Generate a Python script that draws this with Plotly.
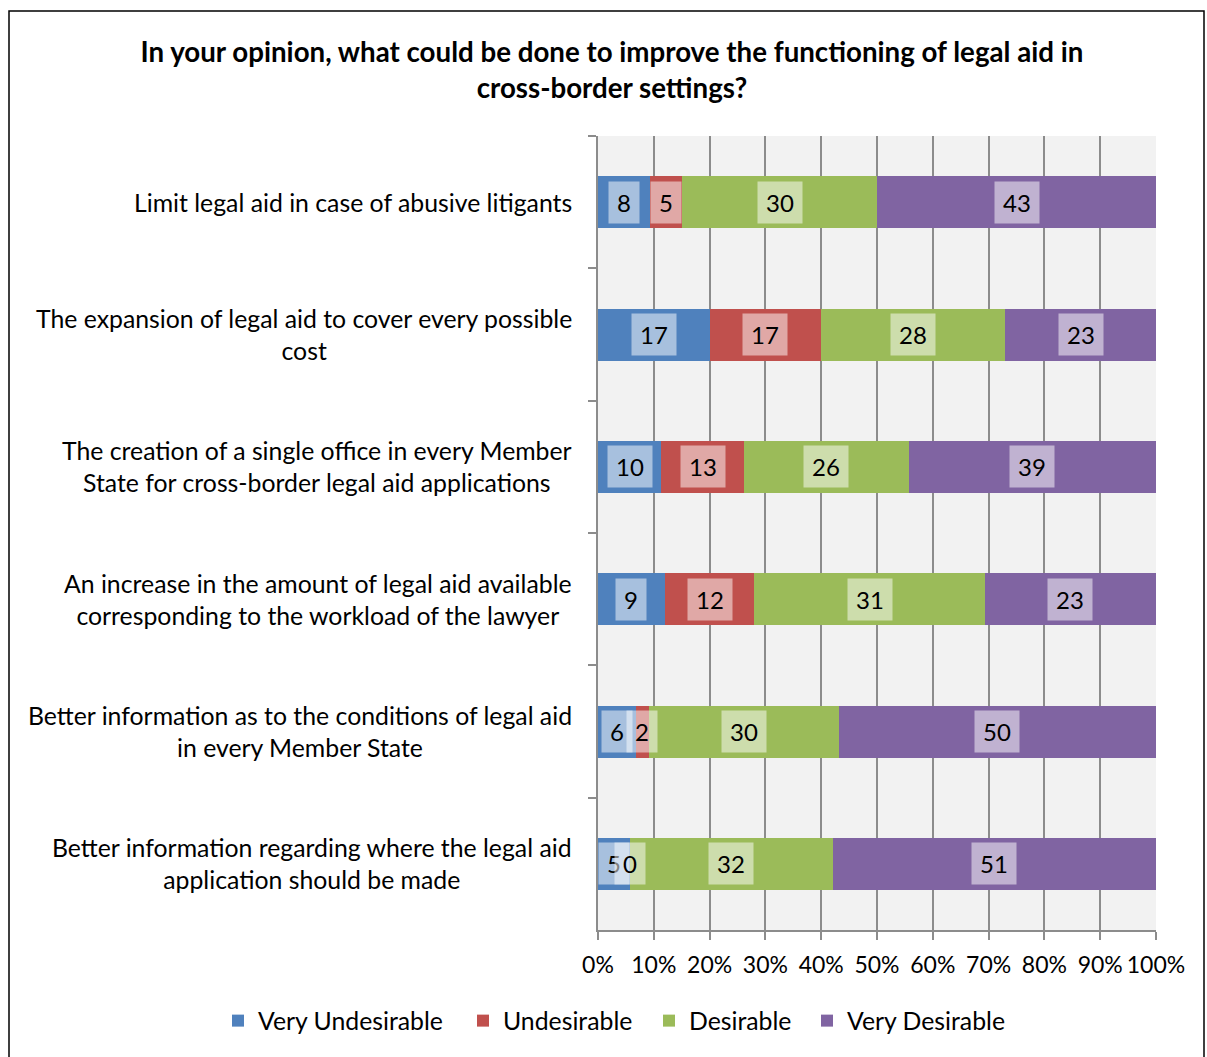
import plotly.graph_objects as go

# Survey responses (counts) for each proposal
categories = [
    "Limit legal aid in case of abusive litigants",
    "The expansion of legal aid to cover every possible<br>cost",
    "The creation of a single office in every Member<br>State for cross-border legal aid applications",
    "An increase in the amount of legal aid available<br>corresponding to the workload of the lawyer",
    "Better information as to the conditions of legal aid<br>in every Member State",
    "Better information regarding where the legal aid<br>application should be made",
]
very_undesirable = [8, 17, 10, 9, 6, 5]
undesirable = [5, 17, 13, 12, 2, 0]
desirable = [30, 28, 26, 31, 30, 32]
very_desirable = [43, 23, 39, 23, 50, 51]

series_names = ["Very Undesirable", "Undesirable", "Desirable", "Very Desirable"]
series_values = [very_undesirable, undesirable, desirable, very_desirable]
series_colors = ["#4F81BD", "#C0504D", "#9BBB59", "#8064A2"]

x_ticks = list(range(0, 101, 10))
x_tick_labels = [f"{v}%" for v in x_ticks]

FONT = "Lato, 'Open Sans', sans-serif"
TEXT_SIZE = 24.8

# pixel geometry of the plotting area
PLOT_L, PLOT_R, PLOT_T, PLOT_B = 598, 1156, 136, 930
PLOT_W, PLOT_H = PLOT_R - PLOT_L, PLOT_B - PLOT_T


def px_to_paper_x(px):
    return (px - PLOT_L) / PLOT_W


def px_to_paper_y(py):
    return (PLOT_B - py) / PLOT_H


# one legend per series so each entry sits at its own horizontal position
legend_ids = ["legend", "legend2", "legend3", "legend4"]
legend_left_px = [218, 463, 649, 807]

fig = go.Figure()
for name, vals, col, lid in zip(series_names, series_values, series_colors, legend_ids):
    fig.add_trace(go.Bar(
        y=categories, x=vals, name=name, orientation="h",
        marker=dict(color=col, line=dict(width=0)),
        hoverinfo="x+y+name", legend=lid, showlegend=True,
    ))

# Value labels centred on each segment (segment position in percent of row total)
annotations = []
for i, cat in enumerate(categories):
    total = sum(s[i] for s in series_values)
    start = 0.0
    for vals in series_values:
        share = vals[i] / total * 100
        label = str(vals[i])
        annotations.append(dict(
            x=start + share / 2, y=cat, xref="x", yref="y",
            text=label, showarrow=False,
            font=dict(family=FONT, size=24, color="#000000"),
            bgcolor="rgba(255,255,255,0.5)",
            width=16 + 14 * len(label), height=41, borderpad=0,
            xanchor="center", yanchor="middle",
        ))
        start += share

# Category labels, each line centred
for cat in categories:
    annotations.append(dict(
        x=px_to_paper_x(574), y=cat, xref="paper", yref="y",
        text=cat, showarrow=False, align="center",
        xanchor="right", yanchor="middle",
        font=dict(family=FONT, size=TEXT_SIZE, color="#000000"),
    ))

legend_style = dict(
    orientation="h", xref="paper", yref="paper", xanchor="left",
    y=px_to_paper_y(1021), yanchor="middle",
    font=dict(family=FONT, size=TEXT_SIZE, color="#000000"),
    itemwidth=30, bgcolor="rgba(0,0,0,0)", visible=True,
)
legends = {lid: dict(legend_style, x=px_to_paper_x(lx))
           for lid, lx in zip(legend_ids, legend_left_px)}

fig.update_layout(
    width=1207, height=1057, showlegend=True,
    barmode="stack", barnorm="percent", bargap=0.607,
    paper_bgcolor="#FFFFFF", plot_bgcolor="#F2F2F2",
    margin=dict(l=PLOT_L, r=1207 - PLOT_R, t=PLOT_T, b=1057 - PLOT_B),
    title=dict(
        text="<b>In your opinion, what could be done to improve the functioning of legal aid in<br>cross-border settings?</b>",
        x=0.507, xanchor="center", y=1 - 62 / 1057, yanchor="middle",
        font=dict(family=FONT, size=27.7, color="#000000"),
    ),
    xaxis=dict(
        range=[0, 100], tickvals=x_ticks, ticktext=x_tick_labels,
        tickangle=0,
        showgrid=True, gridcolor="#8C8C8C", gridwidth=1.5,
        ticks="outside", ticklen=8, tickcolor="#8C8C8C", tickwidth=1.5,
        showline=True, linecolor="#8C8C8C", linewidth=1.5,
        zeroline=False, ticklabelstandoff=6,
        tickfont=dict(family=FONT, size=23, color="#000000"),
    ),
    yaxis=dict(
        type="category", categoryorder="array", categoryarray=categories,
        autorange="reversed", showticklabels=False,
        ticks="outside", tickson="boundaries", ticklen=8,
        tickcolor="#8C8C8C", tickwidth=1.5,
        showline=True, linecolor="#8C8C8C", linewidth=1.5,
        showgrid=False, zeroline=False,
    ),
    annotations=annotations,
    shapes=[dict(
        type="rect", xref="paper", yref="paper",
        x0=px_to_paper_x(9), x1=px_to_paper_x(1204),
        y0=px_to_paper_y(1062), y1=px_to_paper_y(11),
        line=dict(color="#000000", width=1.5), fillcolor="rgba(0,0,0,0)",
        layer="below",
    )],
    **legends,
)

fig.write_html("out.html")
